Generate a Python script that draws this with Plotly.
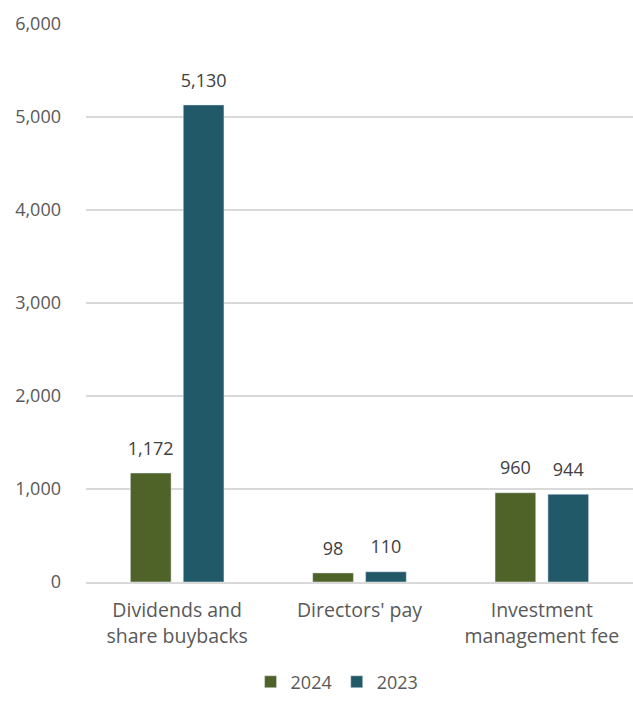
import plotly.graph_objects as go

categories = ["Dividends and<br>share buybacks", "Directors' pay", "Investment<br>management fee"]
values_2024 = [1172, 98, 960]
values_2023 = [5130, 110, 944]
tick_vals = [0, 1000, 2000, 3000, 4000, 5000, 6000]

font_family = "Open Sans, Noto Sans, sans-serif"

def labels(vals):
    return [f"<span style='font-size:18px'>{v:,}</span><br> " for v in vals]

fig = go.Figure()
fig.add_trace(go.Bar(
    name="2024", x=categories, y=values_2024,
    marker_color="#4f6228",
    text=labels(values_2024), textposition="outside", constraintext="none",
    textfont=dict(size=9.5, color="#404040"), cliponaxis=False,
))
fig.add_trace(go.Bar(
    name="2023", x=categories, y=values_2023,
    marker_color="#215968",
    text=labels(values_2023), textposition="outside", constraintext="none",
    textfont=dict(size=9.5, color="#404040"), cliponaxis=False,
))

fig.update_layout(
    width=633, height=701,
    margin=dict(l=86, r=0, t=24, b=119, autoexpand=False),
    paper_bgcolor="white", plot_bgcolor="white",
    font=dict(family=font_family, size=18, color="#595959"),
    barmode="group", bargap=0.42, bargroupgap=0.23,
    showlegend=True,
    legend=dict(orientation="h", x=0.459, xanchor="center", y=-0.2125, yanchor="bottom",
                font=dict(size=18, color="#595959"), traceorder="normal",
                itemwidth=30, borderwidth=0),
    yaxis=dict(range=[0, 6000], tickvals=tick_vals, tickformat=",",
               showgrid=True, gridcolor="#d9d9d9", gridwidth=1.5,
               zeroline=False, showline=False, ticks="", ticklabelstandoff=24,
               automargin=False, tickfont=dict(size=18, color="#595959")),
    xaxis=dict(showline=True, linecolor="#d9d9d9", linewidth=1.5, ticks="",
               automargin=False, ticklabelstandoff=10,
               tickfont=dict(size=19.5, color="#595959")),
)

fig.write_html("out.html")
